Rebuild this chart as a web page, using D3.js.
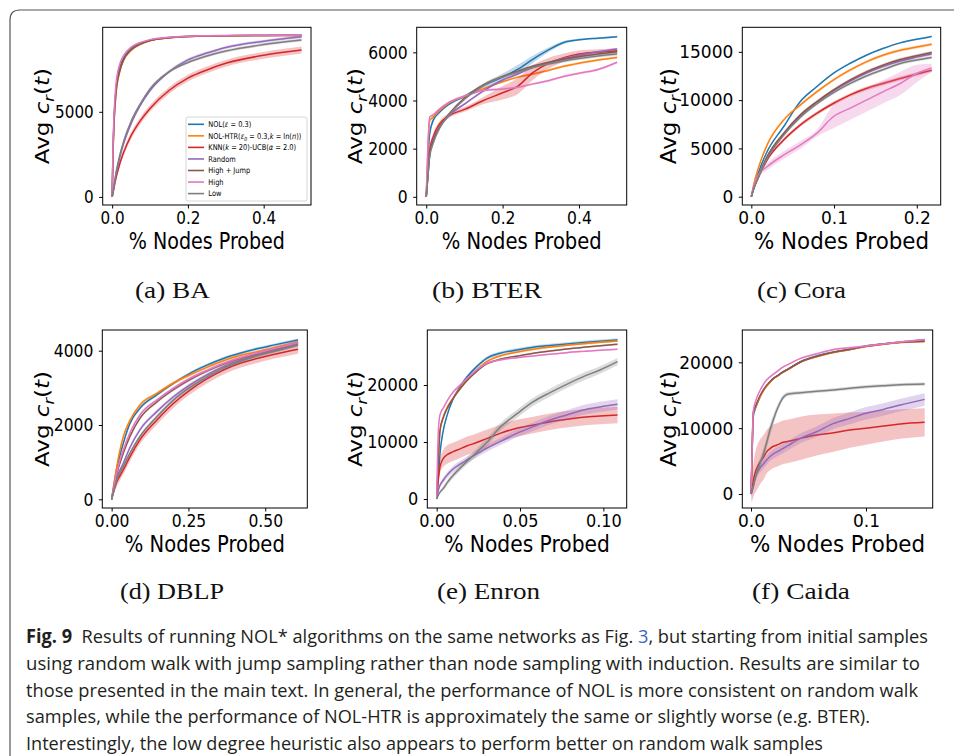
<!DOCTYPE html>
<meta charset="utf-8">
<script src="https://d3js.org/d3.v7.min.js"></script>
<style>body{margin:0;background:#fff} text{white-space:pre}</style>
<div id="fig"></div>
<script>

// series (legend order = drawing order)
var seriesColors = ["#1f77b4", "#ff7f0e", "#d62728", "#9467bd", "#8c564b", "#e377c2", "#7f7f7f"];
var legendLabels = [
  [["NOL(", ""], ["ε", "i"], [" = 0.3)", ""]],
  [["NOL-HTR(", ""], ["ε", "i"], ["0", "sub"], [" = 0.3,", ""], ["k", "i"], [" = ln(", ""], ["n", "i"], ["))", ""]],
  [["KNN(", ""], ["k", "i"], [" = 20)-UCB(", ""], ["α", "i"], [" = 2.0)", ""]],
  [["Random", ""]],
  [["High + Jump", ""]],
  [["High", ""]],
  [["Low", ""]]
];

// (a) BA
var xBA = [0, 0.002, 0.005, 0.01, 0.02, 0.03, 0.05, 0.075, 0.1, 0.15, 0.2, 0.25, 0.3, 0.4, 0.5];
var yBA = [
  [0, 2500, 4600, 6300, 7600, 8150, 8700, 9020, 9200, 9360, 9430, 9460, 9475, 9490, 9495],
  [0, 2300, 4300, 6000, 7350, 8000, 8600, 8960, 9170, 9340, 9420, 9455, 9470, 9485, 9490],
  [0, 200, 550, 1100, 1950, 2600, 3600, 4500, 5200, 6250, 6980, 7460, 7850, 8320, 8630],
  [0, 250, 650, 1300, 2300, 3100, 4300, 5400, 6250, 7350, 8050, 8450, 8780, 9150, 9410],
  [0, 2350, 4400, 6100, 7400, 8050, 8650, 8990, 9190, 9350, 9425, 9455, 9470, 9485, 9490],
  [0, 2700, 4900, 6600, 7800, 8300, 8800, 9080, 9240, 9380, 9440, 9465, 9480, 9495, 9500],
  [0, 280, 700, 1400, 2450, 3250, 4450, 5500, 6350, 7350, 7900, 8280, 8570, 8950, 9220]
];
var bandBA = [40, 40, 200, 90, 40, 40, 90];
var xticksBA = [0, 0.2, 0.4], yticksBA = [0, 5000];

// (b) BTER
var xBT = [0, 0.004, 0.009, 0.018, 0.035, 0.06, 0.1, 0.15, 0.2, 0.24, 0.28, 0.32, 0.36, 0.4, 0.45, 0.5];
var yBT = [
  [0, 1380, 2620, 3170, 3520, 3850, 4170, 4620, 4970, 5300, 5720, 6100, 6410, 6520, 6590, 6650],
  [0, 1800, 3170, 3310, 3590, 3900, 4180, 4490, 4780, 4970, 5100, 5250, 5420, 5550, 5680, 5790],
  [0, 900, 1930, 2480, 3030, 3370, 3630, 4000, 4320, 4600, 5170, 5540, 5780, 5930, 6010, 6070],
  [0, 800, 1800, 2350, 2900, 3380, 3850, 4400, 4850, 5100, 5380, 5570, 5740, 5880, 6020, 6140],
  [0, 800, 1750, 2300, 2900, 3450, 4100, 4650, 5000, 5220, 5430, 5580, 5710, 5820, 5930, 6020],
  [0, 2000, 3310, 3400, 3650, 3930, 4180, 4420, 4480, 4550, 4690, 4820, 5000, 5130, 5290, 5590],
  [0, 750, 1650, 2210, 2850, 3400, 4050, 4620, 4980, 5180, 5380, 5520, 5640, 5740, 5850, 5930]
];
var bandBT = [
  [0, 100, 150, 120, 80, 60, 60, 100, 150, 180, 150, 100, 60, 40, 40, 40],
  50,
  [0, 120, 150, 150, 120, 100, 100, 150, 280, 330, 300, 230, 170, 150, 120, 100],
  50, 50, 50, 60
];
var xticksBT = [0, 0.2, 0.4], yticksBT = [0, 2000, 4000, 6000];

// (c) Cora
var xCO = [0, 0.003, 0.009, 0.019, 0.039, 0.059, 0.079, 0.099, 0.119, 0.139, 0.159, 0.18, 0.2, 0.218];
var yCO = [
  [0, 1030, 2590, 4650, 7240, 9830, 11380, 12760, 13790, 14650, 15340, 15930, 16300, 16600],
  [0, 1300, 3100, 5340, 7930, 9480, 10860, 12070, 13100, 13960, 14650, 15170, 15500, 15790],
  [0, 850, 2070, 3790, 5860, 7410, 8620, 9650, 10520, 11200, 11720, 12240, 12700, 13100],
  [0, 880, 2150, 4050, 6450, 8350, 9750, 10950, 11950, 12800, 13480, 14050, 14450, 14780],
  [0, 900, 2200, 4140, 6550, 8450, 9830, 11030, 12070, 12930, 13620, 14200, 14600, 14930],
  [0, 1100, 2300, 3100, 4310, 5340, 6550, 8280, 9140, 10000, 10860, 11720, 12760, 13340],
  [0, 850, 2100, 3950, 6350, 8200, 9600, 10750, 11700, 12500, 13150, 13790, 14150, 14410]
];
var bandCO = [80, 150, 200, 150, 150,
  [0, 150, 250, 350, 400, 400, 350, 1200, 1200, 1200, 1200, 1200, 900, 430],
  150];
var xticksCO = [0, 0.1, 0.2], yticksCO = [0, 5000, 10000, 15000];

// (d) DBLP
var xDB = [0, 0.016, 0.038, 0.06, 0.092, 0.147, 0.201, 0.255, 0.31, 0.364, 0.418, 0.473, 0.527, 0.607];
var yDB = [
  [0, 790, 1510, 2050, 2450, 2810, 3120, 3390, 3610, 3790, 3930, 4050, 4150, 4290],
  [0, 850, 1690, 2130, 2540, 2850, 3130, 3350, 3550, 3730, 3870, 3970, 4080, 4240],
  [0, 450, 790, 1150, 1600, 2130, 2580, 2940, 3240, 3480, 3660, 3790, 3900, 4040],
  [0, 560, 970, 1400, 1870, 2360, 2760, 3080, 3350, 3570, 3740, 3880, 3990, 4180],
  [0, 660, 1240, 1700, 2180, 2620, 2950, 3220, 3450, 3640, 3790, 3920, 4030, 4220],
  [0, 700, 1330, 1800, 2270, 2670, 2990, 3260, 3470, 3660, 3810, 3940, 4050, 4220],
  [0, 500, 880, 1250, 1690, 2220, 2670, 3010, 3290, 3530, 3710, 3860, 3980, 4150]
];
var bandDB = [40, 40, 120, 50, 40, 40, 50];
var xticksDB = [0, 0.25, 0.5], yticksDB = [0, 2000, 4000];

// (e) Enron
var xEN = [0, 0.001, 0.002, 0.004, 0.006, 0.01, 0.014, 0.018, 0.024, 0.03, 0.038, 0.048, 0.058, 0.068, 0.078, 0.088, 0.098, 0.1085];
var yEN = [
  [0, 4000, 8000, 12100, 14450, 17670, 19700, 21350, 23220, 24690, 25560, 26150, 26620, 26930, 27200, 27450, 27670, 27900],
  [0, 7000, 12100, 14450, 15900, 17800, 19420, 20880, 22640, 24100, 25100, 25750, 26270, 26650, 26970, 27250, 27500, 27730],
  [0, 3500, 5670, 7140, 7720, 8300, 8800, 9300, 9900, 10600, 11520, 12400, 12990, 13570, 13980, 14330, 14550, 14740],
  [0, 1570, 2400, 3330, 4100, 5300, 6100, 6840, 7900, 8900, 10060, 11520, 12700, 13860, 14740, 15620, 16150, 16610],
  [0, 7000, 12000, 14300, 15700, 17700, 19300, 20700, 22400, 23700, 24510, 25050, 25560, 25970, 26330, 26620, 26880, 27140],
  [0, 12000, 14800, 16000, 17100, 18800, 20000, 21100, 22640, 23800, 24400, 24800, 25100, 25400, 25680, 25900, 26100, 26270],
  [0, 700, 1200, 1870, 2750, 4200, 5400, 6550, 8200, 9900, 12580, 14920, 17080, 18660, 20120, 21470, 22640, 24100]
];
var bandEN = [300, 200,
  [0, 800, 1200, 1500, 1600, 1600, 1600, 1600, 1600, 1550, 1500, 1500, 1450, 1450, 1450, 1450, 1450, 1450],
  [0, 300, 400, 500, 500, 550, 550, 600, 600, 600, 650, 700, 750, 800, 850, 850, 900, 900],
  150, 150,
  [0, 200, 300, 400, 450, 500, 550, 600, 650, 700, 700, 700, 700, 700, 700, 700, 650, 650]];
var xticksEN = [0, 0.05, 0.1], yticksEN = [0, 10000, 20000];

// (f) Caida
var xCA = [0, 0.0006, 0.002, 0.0035, 0.005, 0.008, 0.011, 0.0135, 0.0165, 0.0195, 0.0225, 0.028, 0.0325, 0.043, 0.057, 0.072, 0.086, 0.1, 0.115, 0.13, 0.151];
var yCA = [
  [0, 3600, 11740, 12800, 13510, 14800, 15790, 16400, 17000, 17560, 17900, 18570, 19000, 20090, 20950, 21560, 21960, 22470, 22800, 23070, 23380],
  [0, 3600, 12200, 13000, 13600, 14800, 15750, 16350, 16950, 17500, 17850, 18500, 18950, 20000, 20850, 21500, 21950, 22400, 22750, 23000, 23170],
  [0, 350, 2000, 3140, 3900, 4910, 5600, 6400, 6900, 7250, 7440, 7850, 8000, 8450, 8960, 9310, 9720, 9970, 10320, 10630, 10880],
  [0, 150, 1300, 2300, 3140, 4000, 4600, 5150, 5700, 6100, 6400, 6930, 7400, 8450, 9460, 10730, 11490, 12250, 12850, 13510, 14370],
  [0, 3600, 12400, 13200, 13800, 15000, 15900, 16500, 17050, 17550, 17900, 18550, 19000, 20050, 20900, 21550, 21980, 22430, 22780, 23030, 23200],
  [0, 4000, 12600, 13800, 14600, 15800, 16700, 17300, 17800, 18200, 18600, 19300, 19700, 20600, 21300, 21960, 22200, 22470, 22800, 23080, 23480],
  [0, 600, 1100, 2300, 3200, 4700, 6200, 7700, 9720, 11300, 12750, 14670, 15180, 15380, 15600, 15800, 16050, 16290, 16450, 16600, 16700]
];
var bandCA = [150,
  150,
  [0, 1500, 2500, 3000, 3300, 3400, 3400, 3300, 3300, 3300, 3300, 3300, 3300, 3300, 3100, 2900, 2700, 2500, 2350, 2250, 2150],
  [0, 200, 400, 500, 600, 700, 700, 700, 700, 700, 700, 700, 700, 750, 800, 850, 900, 950, 950, 950, 950],
  150, 150,
  [0, 300, 500, 700, 800, 900, 900, 900, 900, 800, 600, 400, 300, 250, 250, 250, 250, 250, 250, 250, 250]];
var xticksCA = [0, 0.1], yticksCA = [0, 10000, 20000];

var captionLines = [
  [["Fig. 9", "b"], ["  Results of running NOL* algorithms on the same networks as Fig. ", ""], ["3", "link"], [", but starting from initial samples", ""]],
  [["using random walk with jump sampling rather than node sampling with induction. Results are similar to", ""]],
  [["those presented in the main text. In general, the performance of NOL is more consistent on random walk", ""]],
  [["samples, while the performance of NOL-HTR is approximately the same or slightly worse (e.g. BTER).", ""]],
  [["Interestingly, the low degree heuristic also appears to perform better on random walk samples", ""]]
];
var captionWidths = [902, 894, 892, 844, 797];

// layout of the six sub-figures
var panels = [
  {x: xBA, y: yBA, band: bandBA, xt: xticksBA, yt: yticksBA, fmt: ".1f", box: [102.7, 27.3, 311, 205], xlim: [-0.025, 0.525], ylim: [-475, 9965], sx: 0.83, ylab: 49, cap: "(a) BA", capx: 135, capw: 75, capy: 298, legend: true},
  {x: xBT, y: yBT, band: bandBT, xt: xticksBT, yt: yticksBT, fmt: ".1f", box: [416.7, 27.3, 626.7, 205], xlim: [-0.025, 0.525], ylim: [-340, 7040], sx: 0.85, ylab: 362, cap: "(b) BTER", capx: 432, capw: 110, capy: 298},
  {x: xCO, y: yCO, band: bandCO, xt: xticksCO, yt: yticksCO, fmt: ".1f", box: [742.3, 27.3, 940.7, 205], xlim: [-0.0109, 0.2289], ylim: [-860, 17540], sx: 0.93, ylab: 676, cap: "(c) Cora", capx: 757, capw: 89, capy: 298},
  {x: xDB, y: yDB, band: bandDB, xt: xticksDB, yt: yticksDB, fmt: ".2f", box: [102.3, 330, 307.3, 508], xlim: [-0.0304, 0.637], ylim: [-234, 4557], sx: 0.85, ylab: 49, cap: "(d) DBLP", capx: 120, capw: 104, capy: 599},
  {x: xEN, y: yEN, band: bandEN, xt: xticksEN, yt: yticksEN, fmt: ".2f", box: [427.3, 330, 626.7, 508], xlim: [-0.00564, 0.114], ylim: [-1580, 29650], sx: 0.88, ylab: 362, cap: "(e) Enron", capx: 437, capw: 103, capy: 599},
  {x: xCA, y: yCA, band: bandCA, xt: xticksCA, yt: yticksCA, fmt: ".1f", box: [742.3, 330, 932.7, 508], xlim: [-0.00757, 0.158], ylim: [-2127, 24910], sx: 0.93, ylab: 676, cap: "(f) Caida", capx: 752, capw: 98, capy: 599}
];

var svg = d3.select("#fig").append("svg")
    .attr("width", 954)
    .attr("height", 756);

// page frame
svg.append("path")
  .attr("d", "M10,760 L10,20 Q10,10 20,10 L960,10")
  .attr("fill", "none")
  .attr("stroke", "#555")
  .attr("stroke-width", 1.2);

var tickFont = 18.3, labelFont = 23;

function addSegments(sel, segs, size) {
  var shifted = false;
  segs.forEach(function(s) {
    var t = sel.append("tspan").text(s[0]);
    if (shifted) { t.attr("dy", -size * 0.25); shifted = false; }
    if (s[1] == "i") t.attr("font-style", "italic");
    if (s[1] == "sub") { t.attr("font-style", "italic").attr("font-size", size * 0.7).attr("dy", size * 0.25); shifted = true; }
    if (s[1] == "b") t.attr("font-weight", "bold");
    if (s[1] == "link") t.attr("fill", "#3a63c4");
  });
}

panels.forEach(function(p, pi) {
  var x = d3.scaleLinear().domain(p.xlim).range([p.box[0], p.box[2]]);
  var y = d3.scaleLinear().domain(p.ylim).range([p.box[3], p.box[1]]);
  var w = p.box[2] - p.box[0], h = p.box[3] - p.box[1];

  svg.append("clipPath").attr("id", "clip" + pi)
    .append("rect").attr("x", p.box[0]).attr("y", p.box[1]).attr("width", w).attr("height", h);

  var g = svg.append("g").attr("clip-path", "url(#clip" + pi + ")");

  p.y.forEach(function(vals, i) {
    var b = p.band[i];
    var pts = p.x.map(function(xv, j) {
      return {x: xv, y: vals[j], h: Array.isArray(b) ? b[j] : (j == 0 ? 0 : b)};
    });
    g.append("path").datum(pts)
      .attr("d", d3.area()
        .x(function(d) { return x(d.x); })
        .y0(function(d) { return y(d.y - d.h); })
        .y1(function(d) { return y(d.y + d.h); })
        .curve(d3.curveMonotoneX))
      .attr("fill", seriesColors[i])
      .attr("fill-opacity", 0.28);
    g.append("path").datum(pts)
      .attr("d", d3.line()
        .x(function(d) { return x(d.x); })
        .y(function(d) { return y(d.y); })
        .curve(d3.curveMonotoneX))
      .attr("fill", "none")
      .attr("stroke", seriesColors[i])
      .attr("stroke-width", 1.5);
  });

  // spines
  svg.append("rect")
    .attr("x", p.box[0]).attr("y", p.box[1]).attr("width", w).attr("height", h)
    .attr("fill", "none").attr("stroke", "#000").attr("stroke-width", 1);

  // x axis
  var gx = svg.append("g")
    .attr("transform", "translate(0," + p.box[3] + ")")
    .call(d3.axisBottom(x).tickValues(p.xt).tickFormat(d3.format(p.fmt)).tickSize(3.5).tickPadding(3));
  gx.select(".domain").remove();
  gx.selectAll("line").attr("stroke", "#000");
  gx.selectAll("text")
    .attr("font-family", "DejaVu Sans").attr("font-size", tickFont).attr("fill", "#000")
    .attr("transform", "scale(" + p.sx + ",1)");

  // y axis
  var gy = svg.append("g")
    .attr("transform", "translate(" + p.box[0] + ",0)")
    .call(d3.axisLeft(y).tickValues(p.yt).tickFormat(d3.format("d")).tickSize(3.5).tickPadding(5.5));
  gy.select(".domain").remove();
  gy.selectAll("line").attr("stroke", "#000");
  gy.selectAll("text")
    .attr("font-family", "DejaVu Sans").attr("font-size", tickFont).attr("fill", "#000")
    .attr("transform", "scale(" + p.sx + ",1)")
    .attr("x", -9 / p.sx);

  // x label
  svg.append("text")
    .attr("transform", "translate(" + (p.box[0] + w / 2) + "," + (p.box[3] + 44) + ") scale(" + p.sx + ",1)")
    .attr("text-anchor", "middle")
    .attr("font-family", "DejaVu Sans").attr("font-size", labelFont)
    .text("% Nodes Probed");

  // y label
  var yl = svg.append("text")
    .attr("transform", "translate(" + p.ylab + "," + (p.box[1] + h / 2) + ") scale(" + p.sx + ",1) rotate(-90)")
    .attr("text-anchor", "middle")
    .attr("font-family", "DejaVu Sans").attr("font-size", labelFont);
  addSegments(yl, [["Avg ", ""], ["c", "i"], ["r", "sub"], ["(", ""], ["t", "i"], [")", ""]], labelFont);

  // sub-figure caption
  svg.append("text")
    .attr("x", p.capx).attr("y", p.capy)
    .attr("font-family", "Liberation Serif").attr("font-size", 23.5)
    .attr("fill", "#111")
    .attr("textLength", p.capw).attr("lengthAdjust", "spacingAndGlyphs")
    .text(p.cap);

  if (p.legend) {
    var lg = svg.append("g");
    lg.append("rect")
      .attr("x", 186).attr("y", 117).attr("width", 121).attr("height", 84).attr("rx", 2)
      .attr("fill", "#fff").attr("fill-opacity", 0.8)
      .attr("stroke", "#ccc").attr("stroke-width", 0.8);
    legendLabels.forEach(function(lab, i) {
      var ly = 124.3 + i * 11.55;
      lg.append("line")
        .attr("x1", 188).attr("x2", 204).attr("y1", ly).attr("y2", ly)
        .attr("stroke", seriesColors[i]).attr("stroke-width", 1.6);
      var t = lg.append("text")
        .attr("transform", "translate(208.3," + (ly + 2.8) + ") scale(" + p.sx + ",1)")
        .attr("font-family", "DejaVu Sans").attr("font-size", 8);
      addSegments(t, lab, 8);
    });
  }
});

// figure caption
captionLines.forEach(function(line, i) {
  var t = svg.append("text")
    .attr("x", 26).attr("y", 643.3 + i * 26.7)
    .attr("font-family", "Open Sans").attr("font-size", 19)
    .attr("fill", "#231f20")
    .attr("textLength", captionWidths[i])
    .attr("lengthAdjust", "spacingAndGlyphs");
  addSegments(t, line, 19);
});

</script>
